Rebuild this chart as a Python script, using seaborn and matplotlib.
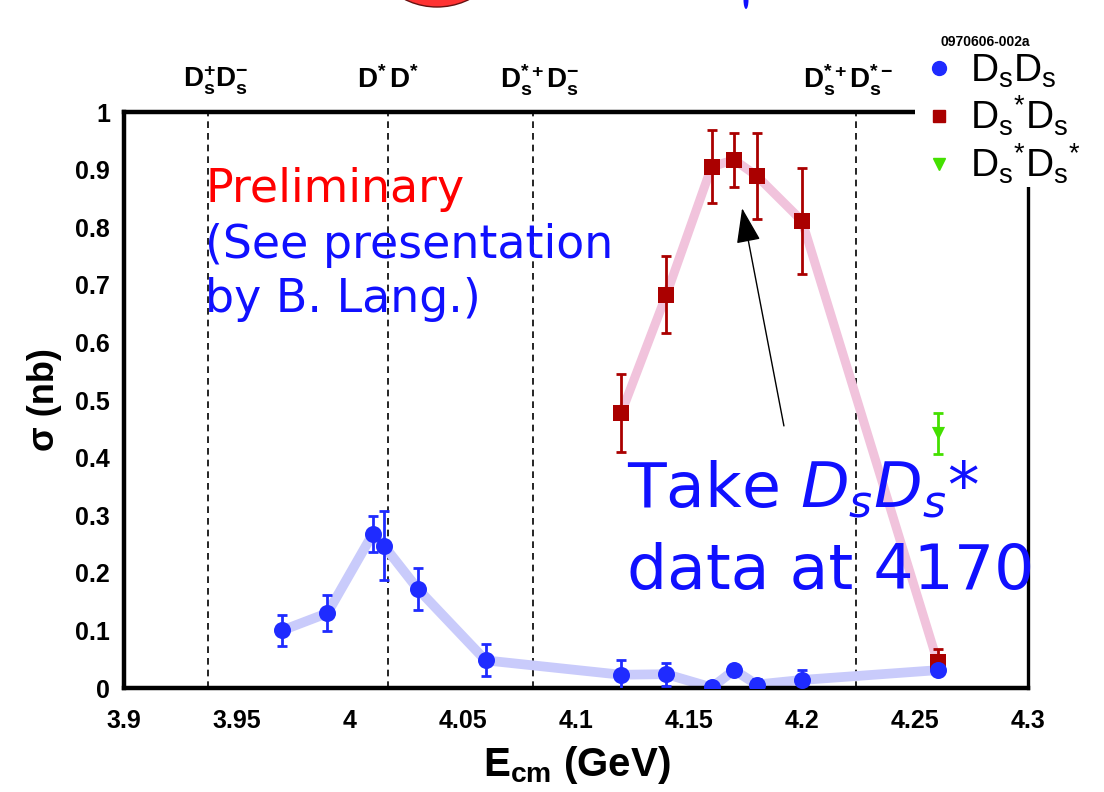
import numpy as np
import pandas as pd
import seaborn as sns
import matplotlib
matplotlib.use("Agg")
import matplotlib.pyplot as plt
from matplotlib.lines import Line2D
from matplotlib.patches import Rectangle, Ellipse
from matplotlib.ticker import MultipleLocator, FixedLocator, FixedFormatter

# ---------------- data ----------------
e_dsds = [3.970, 3.990, 4.010, 4.015, 4.030, 4.060, 4.120, 4.140, 4.160, 4.170, 4.180, 4.200, 4.260]
s_dsds = [0.100, 0.130, 0.267, 0.247, 0.172, 0.048, 0.023, 0.024, 0.001, 0.031, 0.006, 0.014, 0.031]
err_dsds = [0.027, 0.031, 0.031, 0.060, 0.037, 0.028, 0.026, 0.020, 0.004, 0.004, 0.010, 0.018, 0.005]

e_dssds = [4.120, 4.140, 4.160, 4.170, 4.180, 4.200, 4.260]
s_dssds = [0.477, 0.683, 0.905, 0.917, 0.889, 0.811, 0.045]
err_dssds = [0.068, 0.067, 0.063, 0.047, 0.074, 0.092, 0.022]

e_dssdss = [4.260]
s_dssdss = [0.442]
err_dssdss = [0.035]

thresholds = [3.937, 4.017, 4.081, 4.224]
threshold_labels = [r"$\mathbf{D_s^{+}D_s^{-}}$", r"$\mathbf{D^{*}\,D^{*}}$",
                     r"$\mathbf{D_s^{*+}D_s^{-}}$", r"$\mathbf{D_s^{*+}D_s^{*-}}$"]
xticks = [3.9, 3.95, 4.0, 4.05, 4.1, 4.15, 4.2, 4.25, 4.3]
xticklabels = ["3.9", "3.95", "4", "4.05", "4.1", "4.15", "4.2", "4.25", "4.3"]
yticks = [0, 0.1, 0.2, 0.3, 0.4, 0.5, 0.6, 0.7, 0.8, 0.9, 1.0]
yticklabels = ["0", "0.1", "0.2", "0.3", "0.4", "0.5", "0.6", "0.7", "0.8", "0.9", "1"]
legend_labels = [r"$\mathrm{D_sD_s}$", r"$\mathrm{D_s{}^{*}D_s}$", r"$\mathrm{D_s{}^{*}D_s{}^{*}}$"]

df_a = pd.DataFrame({"E": e_dsds, "s": s_dsds})
df_b = pd.DataFrame({"E": e_dssds, "s": s_dssds})
df_c = pd.DataFrame({"E": e_dssdss, "s": s_dssdss})

# ---------------- style ----------------
sns.set_style("white")
plt.rcParams["font.family"] = ["Liberation Sans", "DejaVu Sans"]
plt.rcParams["mathtext.fontset"] = "custom"
plt.rcParams["mathtext.rm"] = "Liberation Sans"
plt.rcParams["mathtext.it"] = "Liberation Sans:italic"
plt.rcParams["mathtext.bf"] = "Liberation Sans:bold"
plt.rcParams["text.color"] = "black"
plt.rcParams["axes.labelcolor"] = "black"
plt.rcParams["xtick.color"] = "black"
plt.rcParams["ytick.color"] = "black"

W, H = 1104, 792
fig = plt.figure(figsize=(W / 100, H / 100), dpi=100)
ax = fig.add_axes([124 / W, 1 - 688 / H, (1028 - 124) / W, (688 - 112) / H])

BLUE = "#1f2bff"
RED = "#aa0000"
GREEN = "#44e000"

# smooth connecting bands
sns.lineplot(data=df_a, x="E", y="s", ax=ax, color="#c9cbfb", linewidth=7,
             sort=False, estimator=None, zorder=2, solid_capstyle="round")
sns.lineplot(data=df_b, x="E", y="s", ax=ax, color="#f1c3dc", linewidth=6.5,
             sort=False, estimator=None, zorder=2, solid_capstyle="round")

# error bars
ax.errorbar(e_dsds, s_dsds, yerr=err_dsds, fmt="none", ecolor=BLUE, elinewidth=2,
            capsize=3.5, capthick=2, zorder=3)
ax.errorbar(e_dssds, s_dssds, yerr=err_dssds, fmt="none", ecolor=RED, elinewidth=2,
            capsize=3.5, capthick=2, zorder=3)
ax.errorbar(e_dssdss, s_dssdss, yerr=err_dssdss, fmt="none", ecolor=GREEN, elinewidth=2,
            capsize=3.5, capthick=2, zorder=3)

# markers
sns.scatterplot(data=df_b, x="E", y="s", ax=ax, marker="s", s=120, color=RED,
                edgecolor=RED, linewidth=0, zorder=4)
sns.scatterplot(data=df_a, x="E", y="s", ax=ax, marker="o", s=150, color=BLUE,
                edgecolor=BLUE, linewidth=0, zorder=5)
sns.scatterplot(data=df_c, x="E", y="s", ax=ax, marker="v", s=90, color=GREEN,
                edgecolor=GREEN, linewidth=0, zorder=4)

# threshold lines
for t in thresholds:
    ax.axvline(t, color="black", linestyle=(0, (4, 3)), linewidth=1.2, zorder=1)

ax.set_xlim(3.9, 4.3)
ax.set_ylim(0, 1)
ax.xaxis.set_major_locator(FixedLocator(xticks))
ax.xaxis.set_major_formatter(FixedFormatter(xticklabels))
ax.xaxis.set_minor_locator(MultipleLocator(0.01))
ax.yaxis.set_major_locator(FixedLocator(yticks))
ax.yaxis.set_major_formatter(FixedFormatter(yticklabels))
ax.yaxis.set_minor_locator(MultipleLocator(0.02))
ax.tick_params(axis="both", which="major", direction="in", length=11, width=2.2,
               color="black", labelsize=18, labelcolor="black")
ax.tick_params(axis="both", which="minor", direction="in", length=6, width=1.6, color="black")
ax.tick_params(axis="x", which="major", pad=15)
ax.tick_params(axis="y", which="major", pad=10)
for lab in ax.get_xticklabels() + ax.get_yticklabels():
    lab.set_fontweight("bold")
for side in ["left", "bottom", "top"]:
    ax.spines[side].set_linewidth(3.2)
    ax.spines[side].set_color("black")
ax.spines["right"].set_linewidth(2.4)
ax.spines["right"].set_color("black")

ax.set_xlabel(r"$\mathbf{E_{cm}}$ (GeV)", fontsize=29, fontweight="bold")
ax.xaxis.set_label_coords((577 - 124) / 904, (688 - 765) / 576)
ax.xaxis.label.set_va("center")
ax.set_ylabel("σ (nb)", fontsize=26, fontweight="bold")
ax.yaxis.set_label_coords((45 - 124) / 904, 0.5)
ax.yaxis.label.set_va("center")

# arrow
ax.annotate("", xy=(4.1735, 0.833), xytext=(4.192, 0.455),
            arrowprops=dict(arrowstyle="-|>,head_length=1.1,head_width=0.38",
                            color="black", lw=1.0, mutation_scale=20,
                            shrinkA=0, shrinkB=0), zorder=6)

# overlay texts
def px(x, y):
    return x / W, 1 - y / H

fig.text(*px(205, 190), "Preliminary", color="#ff0000", fontsize=33,
         family="DejaVu Sans", va="center", ha="left")
fig.text(*px(205, 245), "(See presentation", color="#1010ff", fontsize=33,
         family="DejaVu Sans", va="center", ha="left")
fig.text(*px(205, 300), "by B. Lang.)", color="#1010ff", fontsize=33,
         family="DejaVu Sans", va="center", ha="left")
fig.text(*px(627, 490), r"Take $D_sD_s$*", color="#1010ff", fontsize=45.5,
         family="DejaVu Sans", math_fontfamily="dejavusans", va="center", ha="left")
fig.text(*px(627, 572), "data at 4170", color="#1010ff", fontsize=45.5,
         family="DejaVu Sans", va="center", ha="left")

for t, lab, xp in zip(thresholds, threshold_labels, [216, 388, 540, 848]):
    fig.text(*px(xp, 80), lab, fontsize=20, ha="center", va="center", color="black")

fig.text(*px(985, 42), "0970606-002a", fontsize=10, fontweight="bold",
         ha="center", va="center", color="black")

# white box over the top-right corner (legend area)
fig.add_artist(Rectangle((915 / W, 1 - 187 / H), (W - 915) / W, (187 - 58) / H,
                         transform=fig.transFigure, facecolor="white",
                         edgecolor="none", zorder=3))

handles = [Line2D([], [], marker="o", color=BLUE, linestyle="none", markersize=10),
           Line2D([], [], marker="s", color=RED, linestyle="none", markersize=9),
           Line2D([], [], marker="v", color=GREEN, linestyle="none", markersize=8)]
leg = fig.legend(handles, legend_labels, loc="upper left",
                 bbox_to_anchor=px(925, 53), fontsize=28, frameon=False,
                 handlelength=0.7, handletextpad=0.45, labelspacing=0.1,
                 borderpad=0, borderaxespad=0, labelcolor="black")

# fragments of the slide title above the chart
fig.add_artist(Ellipse((437 / W, 1 + 65 / H), 144 / W, 144 / H, transform=fig.transFigure,
                       facecolor="#ff3333", edgecolor="#661111", linewidth=1, zorder=3))
fig.add_artist(Ellipse((746 / W, 1.0), 5 / W, 18 / H, transform=fig.transFigure,
                       facecolor="#1010ff", edgecolor="none", zorder=3))

fig.savefig("out.png", dpi=100)
